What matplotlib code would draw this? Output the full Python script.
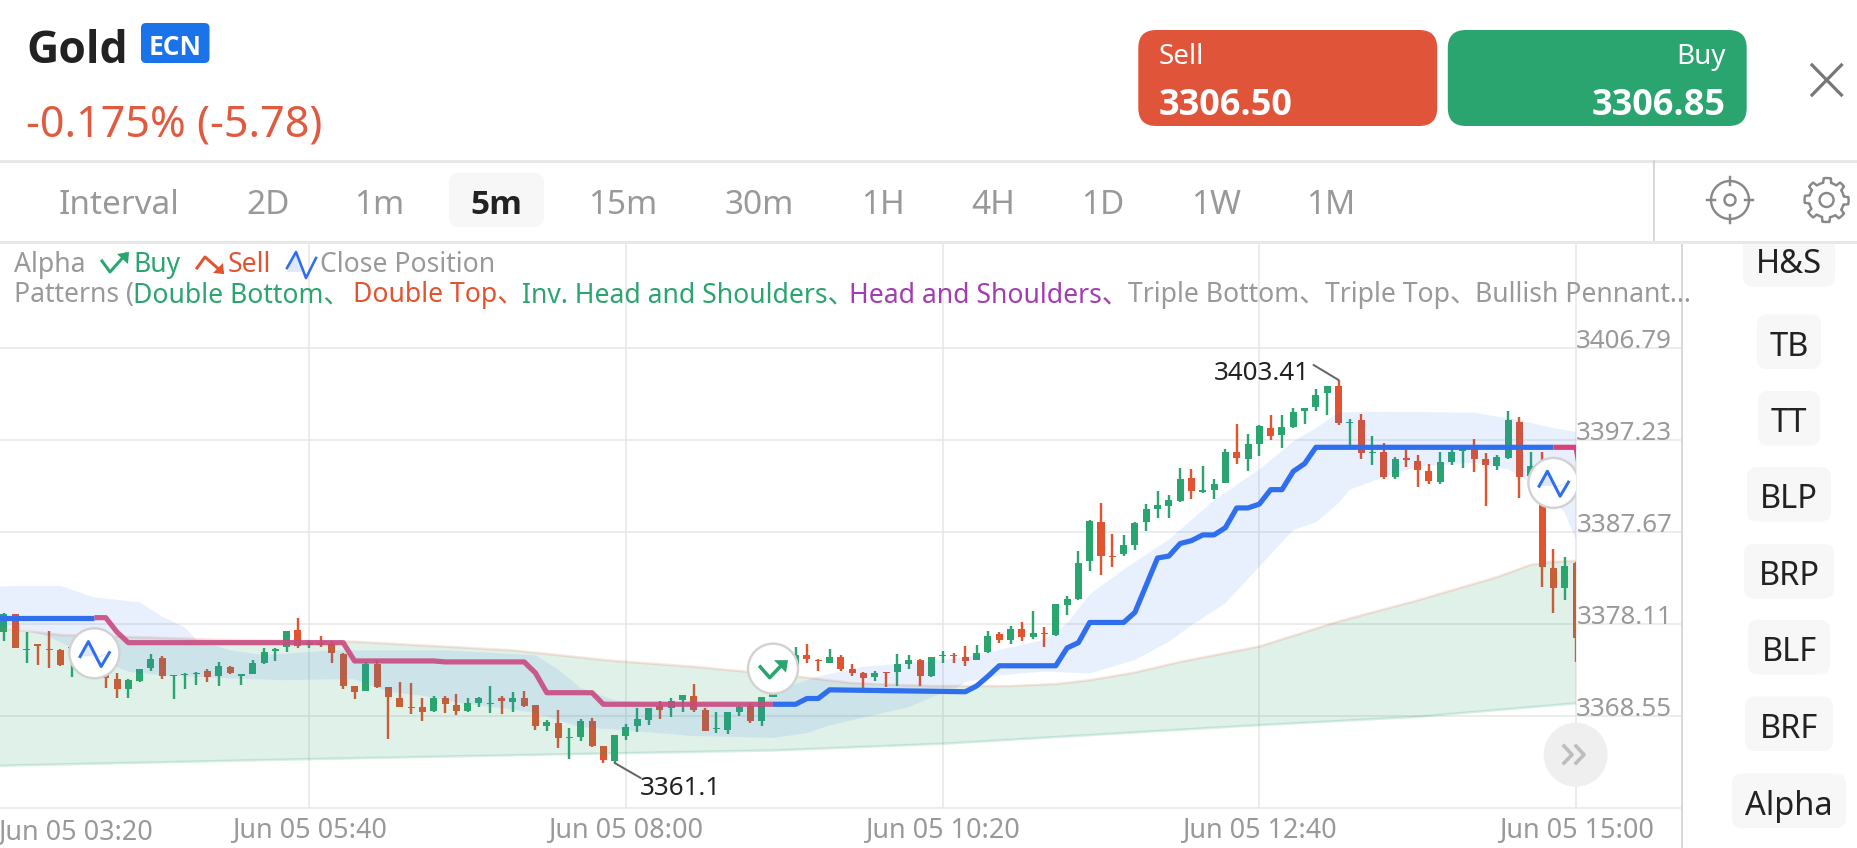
import numpy as np
import matplotlib
matplotlib.use("Agg")
import matplotlib.pyplot as plt
from matplotlib import font_manager as fm
from matplotlib.patches import FancyBboxPatch, Circle, Rectangle, Polygon

plt.rcParams['font.family'] = ['Noto Sans', 'Noto Sans CJK SC', 'DejaVu Sans']

BOLD_FAMILY = 'DejaVu Sans'
for cand in ['Noto Sans', 'Open Sans', 'Inter', 'Roboto', 'Lato', 'Liberation Sans']:
    if any(f.name == cand and (f.weight == 'bold' or (isinstance(f.weight, int) and f.weight >= 700))
           for f in fm.fontManager.ttflist):
        BOLD_FAMILY = cand
        break

# ---------- data ----------
opens = [3377.3,3379.2,3375.4,3376.0,3375.5,3375.4,3375.6,3375.1,3373.7,3372.8,
 3372.4,3371.4,3372.2,3373.6,3374.6,3372.7,3372.8,3372.9,3373.3,3372.7,
 3373.7,3372.7,3372.9,3374.1,3375.3,3375.8,3377.5,3376.0,3376.2,3376.1,
 3375.0,3371.7,3371.2,3374.0,3371.6,3370.5,3369.5,3369.5,3369.1,3370.5,
 3369.7,3369.1,3369.9,3369.8,3370.4,3370.0,3370.4,3369.7,3367.5,3367.9,
 3366.3,3366.4,3368.1,3365.5,3363.9,3366.5,3367.5,3368.2,3369.6,3369.4,
 3370.2,3370.7,3369.2,3367.2,3367.1,3369.0,3369.6,3368.1,3370.6,3371.6,
 3373.7,3374.9,3374.4,3374.1,3374.7,3373.5,3373.1,3372.6,3373.1,3373.2,
 3374.0,3374.4,3372.7,3374.8,3374.9,3374.7,3374.4,3375.2,3377.1,3376.5,
 3377.6,3376.8,3377.2,3377.0,3380.1,3380.7,3384.7,3388.7,3385.2,3385.4,
 3386.3,3388.7,3390.1,3390.4,3390.9,3393.3,3391.9,3392.1,3392.8,3396.0,
 3395.3,3396.8,3398.5,3397.8,3398.6,3400.3,3400.7,3402.1,3402.9,3399.0,
 3399.3,3395.9,3396.0,3393.4,3395.4,3395.1,3394.0,3392.9,3395.0,3396.1,
 3396.5,3395.3,3394.6,3395.4,3399.1,3393.5,3394.1,3384.0,3381.9,3384.5]
closes = [3379.2,3375.6,3375.5,3375.9,3375.4,3373.9,3375.7,3374.2,3373.4,3372.5,
 3371.4,3372.3,3373.5,3374.5,3372.7,3372.8,3372.9,3373.1,3372.6,3373.8,
 3373.0,3372.9,3374.1,3375.2,3375.5,3377.4,3375.9,3376.1,3376.0,3375.1,
 3371.7,3371.1,3374.0,3371.6,3370.6,3369.5,3369.4,3369.0,3370.5,3369.8,
 3369.1,3369.9,3370.4,3369.9,3370.1,3370.4,3369.6,3367.5,3368.0,3366.3,
 3366.4,3368.1,3365.5,3364.0,3366.6,3367.4,3368.3,3369.4,3369.2,3370.1,
 3370.8,3369.2,3367.0,3367.3,3369.0,3369.5,3368.1,3370.6,3371.0,3373.0,
 3374.9,3374.5,3374.3,3374.7,3373.5,3373.1,3372.5,3373.1,3373.0,3374.0,
 3374.4,3372.7,3374.7,3374.9,3374.8,3374.3,3375.1,3376.9,3376.5,3377.6,
 3376.8,3377.2,3377.1,3380.2,3380.7,3384.5,3388.8,3385.2,3385.1,3386.3,
 3388.6,3390.1,3390.5,3391.0,3393.2,3392.0,3392.0,3392.7,3396.0,3395.4,
 3396.8,3398.7,3397.7,3398.6,3400.2,3400.6,3401.9,3402.9,3399.0,3399.1,
 3395.9,3396.0,3393.4,3395.3,3395.2,3394.1,3393.0,3395.0,3396.0,3396.3,
 3395.3,3394.7,3395.5,3399.3,3393.4,3394.6,3384.1,3381.9,3384.2,3376.7]
highs = [3379.3,3379.2,3377.3,3376.1,3377.4,3375.5,3375.8,3375.6,3374.0,3373.3,
 3373.1,3372.4,3373.5,3375.0,3374.8,3372.8,3373.1,3373.2,3373.5,3374.2,
 3373.8,3372.9,3374.4,3375.6,3375.6,3377.4,3378.8,3376.5,3376.9,3376.4,
 3375.1,3371.7,3374.2,3374.4,3371.6,3372.1,3372.0,3370.5,3370.7,3370.7,
 3370.9,3370.4,3370.6,3371.7,3370.7,3371.1,3371.2,3369.7,3368.2,3369.2,
 3367.3,3368.3,3368.4,3365.5,3366.6,3367.8,3369.4,3369.4,3370.1,3370.5,
 3370.8,3371.9,3369.4,3369.0,3369.0,3369.6,3369.9,3370.6,3371.0,3373.5,
 3375.8,3376.1,3374.5,3375.5,3374.9,3374.0,3373.2,3373.3,3373.2,3375.0,
 3374.9,3374.5,3374.7,3375.3,3375.1,3375.9,3376.0,3377.4,3377.3,3377.9,
 3378.4,3379.5,3377.8,3380.2,3381.1,3385.7,3388.9,3390.7,3387.5,3387.4,
 3388.7,3390.6,3392.0,3391.5,3394.4,3394.2,3394.6,3393.2,3396.3,3398.9,
 3397.9,3398.8,3399.9,3399.9,3400.6,3400.6,3402.6,3402.9,3403.5,3399.4,
 3400.0,3397.7,3397.0,3395.5,3396.3,3395.7,3394.8,3396.0,3396.4,3396.3,
 3397.4,3395.9,3395.7,3400.3,3399.7,3396.0,3396.0,3385.9,3385.1,3384.6]
lows = [3376.4,3375.6,3374.1,3373.9,3373.6,3373.8,3372.6,3373.9,3373.1,3371.5,
 3370.4,3370.5,3372.1,3373.3,3372.4,3370.3,3371.4,3371.8,3372.1,3371.7,
 3372.9,3371.8,3372.9,3374.0,3374.3,3375.2,3375.6,3375.6,3375.8,3374.1,
 3371.4,3370.3,3371.2,3371.5,3366.2,3369.5,3368.8,3368.1,3369.0,3368.9,
 3368.7,3369.0,3369.5,3368.9,3368.8,3369.0,3369.5,3367.1,3367.0,3365.3,
 3364.1,3366.0,3365.4,3363.7,3363.7,3366.1,3366.9,3367.6,3368.3,3368.5,
 3369.0,3369.0,3367.0,3366.8,3366.7,3368.6,3367.9,3367.5,3370.6,3371.2,
 3373.5,3374.1,3373.3,3374.1,3373.3,3372.7,3371.4,3372.2,3371.6,3371.7,
 3373.5,3371.7,3372.6,3374.1,3374.1,3373.8,3374.4,3375.1,3376.2,3376.1,
 3376.4,3376.6,3375.8,3376.9,3379.1,3380.6,3383.6,3383.2,3384.1,3385.2,
 3385.8,3387.8,3389.2,3389.2,3390.8,3391.1,3391.8,3391.1,3392.8,3394.8,
 3394.0,3395.6,3397.3,3396.4,3398.5,3398.9,3400.3,3399.9,3398.8,3396.5,
 3395.3,3394.7,3393.2,3393.2,3394.5,3392.4,3392.7,3392.7,3394.7,3394.4,
 3393.9,3390.4,3394.1,3395.3,3391.2,3393.1,3382.0,3379.3,3380.6,3374.2]

green_up_k = [0,3,6,12,20,32,46,55,62,71,76,80,83,90,94,97,101,105,112,119,126,133,136,138,140]
green_up_v = [3377.8,3377.4,3377.0,3376.8,3376.5,3376.3,3375.4,3374.3,3373.7,3372.7,3372.0,
              3371.8,3371.7,3371.7,3371.9,3372.3,3373.1,3374.2,3375.8,3378.4,3380.6,3383.0,3384.3,3384.6,3384.7]
green_lo_k = [0,28,55,69,84,110,126,140]
green_lo_v = [3363.4,3364.1,3364.7,3365.0,3365.7,3367.5,3368.5,3369.9]

blue_up_k = [0,2,6,9,13,15,17,18,21,24,30,40,48,50,52,55,60,68,70,72,73,77,84,87,90,93,95,97,100,
             104,108,112,115,117,119,122,131,135,138,140]
blue_up_v = [3382.0,3382.1,3382.1,3380.9,3380.4,3378.9,3377.8,3376.5,3375.4,3374.9,3375.4,3375.4,
             3374.9,3373.4,3371.5,3370.2,3369.8,3369.8,3371.5,3372.3,3372.7,3373.7,3374.4,3374.9,
             3375.7,3376.5,3378.2,3381.2,3383.8,3386.9,3391.0,3394.2,3397.1,3398.5,3400.1,3400.2,
             3400.1,3399.3,3398.5,3398.1]
blue_lo_k = [0,3,5,7,10,12,15,21,26,30,32,35,38,41,45,48,52,56,62,66,69,72,74,78,81,83,85,86,89,93,
             97,101,104,106,109,112,115,117,119,120,123,126,131,134,137,139,140]
blue_lo_v = [3378.0,3377.5,3376.8,3375.7,3374.1,3373.2,3372.8,3372.5,3372.3,3372.4,3372.4,3371.1,
             3370.7,3370.0,3369.4,3368.9,3367.4,3367.1,3366.5,3366.4,3366.3,3366.8,3367.6,3368.7,
             3369.5,3370.5,3371.3,3372.1,3372.8,3373.2,3373.0,3374.4,3376.3,3378.0,3380.3,3384.1,
             3387.9,3388.7,3390.7,3392.1,3393.4,3394.5,3394.9,3394.2,3392.3,3389.7,3386.9]

trail_blue1_k = [0,9]
trail_blue1_v = [3378.8,3378.8]
trail_pink1_k = [9,10,11,12,31,32,39,40,47,48,49,53,54,69]
trail_pink1_v = [3378.8,3378.8,3377.3,3376.2,3376.2,3374.3,3374.3,3374.2,3374.2,3373.05,3371.0,
                 3371.0,3369.8,3369.8]
trail_blue2_k = [69,71,72,73,74,86,87,88,89,94,95,96,97,100,101,103,104,105,106,107,108,109,110,
                 111,112,113,114,115,116,117,138]
trail_blue2_v = [3369.8,3369.8,3370.4,3370.4,3371.3,3371.1,3371.7,3372.7,3373.8,3373.8,3375.65,
                 3376.2,3378.3,3378.3,3379.35,3385.0,3385.2,3386.5,3386.8,3387.4,3387.4,3388.15,
                 3390.2,3390.2,3390.6,3392.1,3392.1,3394.0,3394.8,3396.5,3396.5]
trail_pink2_k = [138,140,141]
trail_pink2_v = [3396.5,3396.5,3390.0]

price_ticks = [3368.55,3378.11,3387.67,3397.23,3406.79]
time_ticks = [28,56,84,112,140]
time_labels = ['Jun 05 05:40','Jun 05 08:00','Jun 05 10:20','Jun 05 12:40','Jun 05 15:00']
first_time_label = 'Jun 05 03:20'

signal_close_k = [9,138]
signal_close_p = [3375.1,3392.8]
signal_buy_k = [69]
signal_buy_p = [3373.5]

intervals = ['Interval','2D','1m','5m','15m','30m','1H','4H','1D','1W','1M']
side_buttons = ['H&S','TB','TT','BLP','BRP','BLF','BRF','Alpha']

# ---------- colours ----------
GREEN, RED, BLUE, PINK, MAUVE = '#2BA56F', '#E2532F', '#2F6FED', '#DC4079', '#C94A80'
GREY, DARK, GRID = '#999999', '#222222', '#E6E6E6'

W, H = 1858, 848
fig = plt.figure(figsize=(W/100, H/100), dpi=100, facecolor='white')
PX = 0.72

# ---------- chart axes ----------
ax_l, ax_r, ax_t, ax_b = 0, 1682, 243, 808.3
ax = fig.add_axes([ax_l/W, 1-ax_b/H, (ax_r-ax_l)/W, (ax_b-ax_t)/H], zorder=1)
ax.patch.set_alpha(0)
ax.set_xlim(0.654, 149.37)
ax.set_ylim(3358.99, 3417.73)
for name, sp in ax.spines.items():
    sp.set_visible(name == 'bottom')
ax.spines['bottom'].set_color(GRID)
ax.spines['bottom'].set_linewidth(1.5*PX)
ax.set_xticks(time_ticks, time_labels)
ax.set_yticks(price_ticks, [f'{v:.2f}' for v in price_ticks])
ax.tick_params(axis='x', length=0, pad=6, labelsize=19.4, labelcolor=GREY)
ax.tick_params(axis='y', length=0, pad=-7, labelsize=18.7, labelcolor=GREY,
               left=False, labelleft=False, right=False, labelright=True)
for lab in ax.get_yticklabels():
    lab.set_ha('right')
    lab.set_va('baseline')
ax.grid(True, color=GRID, lw=1.5*PX, zorder=0)
ax.set_axisbelow(True)
ax.text(0.5, -0.0187, first_time_label, transform=ax.get_xaxis_transform(), ha='left', va='top',
        fontsize=19.4, color=GREY, clip_on=False)

clip = Rectangle((0.654, 3358.99), 140-0.654, 60, transform=ax.transData, fill=False, lw=0)
ax.add_patch(clip)
k = np.arange(1, 141)
o, c, hi, lo = map(np.array, (opens, closes, highs, lows))
colors = [GREEN if cc >= oo else RED for oo, cc in zip(o, c)]
arts = []
arts.append(ax.vlines(k, lo, hi, colors=colors, lw=2.4*PX, zorder=2))
bars = ax.bar(k, np.maximum(np.abs(c-o), 0.12), bottom=np.minimum(o, c), width=0.62, color=colors, zorder=2)
arts.extend(bars.patches)
arts.extend(ax.fill(np.r_[green_up_k, green_lo_k[::-1]], np.r_[green_up_v, green_lo_v[::-1]],
                    color=GREEN, alpha=0.15, lw=0, zorder=3))
arts.extend(ax.fill(np.r_[blue_up_k, blue_lo_k[::-1]], np.r_[blue_up_v, blue_lo_v[::-1]],
                    color=BLUE, alpha=0.105, lw=0, zorder=3))
arts.extend(ax.plot(green_up_k, green_up_v, color=RED, alpha=0.15, lw=2.5*PX, zorder=3))
arts.extend(ax.plot(green_lo_k, green_lo_v, color=GREEN, alpha=0.18, lw=2.5*PX, zorder=3))
for kk, vv, col, al in [(trail_blue1_k, trail_blue1_v, BLUE, 1), (trail_pink1_k, trail_pink1_v, MAUVE, .9),
                        (trail_blue2_k, trail_blue2_v, BLUE, 1), (trail_pink2_k, trail_pink2_v, PINK, 1)]:
    arts.extend(ax.plot(kk, vv, color=col, alpha=al, lw=5.2*PX, zorder=4,
                        solid_joinstyle='round', solid_capstyle='butt'))
for a in arts:
    a.set_clip_path(clip)

# extreme labels
hi_k, hi_p = 119, 3403.5
lo_k, lo_p = 55, 3363.7
ax.annotate('', xy=(hi_k, hi_p), xytext=(-25, 15), textcoords='offset pixels', zorder=5,
            arrowprops=dict(arrowstyle='-', color='#666666', lw=2*PX, shrinkA=0, shrinkB=0))
ax.annotate('3403.41', xy=(hi_k, hi_p), xytext=(-29, 6), textcoords='offset pixels', ha='right', va='center',
            fontsize=18.7, color=DARK, zorder=5)
ax.annotate('', xy=(lo_k, lo_p), xytext=(26, -15), textcoords='offset pixels', zorder=5,
            arrowprops=dict(arrowstyle='-', color='#666666', lw=2*PX, shrinkA=0, shrinkB=0))
ax.annotate('3361.1', xy=(lo_k, lo_p), xytext=(25, -26), textcoords='offset pixels', ha='left', va='center',
            fontsize=18.7, color=DARK, zorder=5)

# ---------- interface overlay in pixel coordinates ----------
ui = fig.add_axes([0, 0, 1, 1], zorder=2)
ui.set_xlim(0, W); ui.set_ylim(H, 0); ui.axis('off'); ui.patch.set_alpha(0)

def rrect(x0, y0, x1, y1, r, col, z=1):
    p = FancyBboxPatch((x0+r, y0+r), x1-x0-2*r, y1-y0-2*r, boxstyle=f'round,pad={r},rounding_size={r}',
                       fc=col, ec='none', zorder=z)
    ui.add_patch(p)
    return p

def txt(x, y, s, size, col, ha='left', weight='normal', z=5):
    t = ui.text(x, y+0.22*size, s, fontsize=size, color=col, ha=ha, va='center', zorder=z)
    if weight == 'bold':
        t.set_family([BOLD_FAMILY])
        t.set_fontweight('bold')
    return t

# header
txt(26, 44, 'Gold', 32, DARK, weight='bold')
rrect(141, 23, 209.5, 63, 5, '#1A73E8')
txt(175, 43, 'ECN', 19, 'white', ha='center', weight='bold')
txt(26, 119, '-0.175% (-5.78)', 31, '#DF5A3F')
rrect(1138.3, 30, 1437.2, 126, 18, '#E0553A')
rrect(1447.8, 30, 1746.7, 126, 18, '#2BA56F')
txt(1159, 53, 'Sell', 20, 'white')
txt(1159, 100, '3306.50', 26, 'white', weight='bold')
txt(1726, 53, 'Buy', 20, 'white', ha='right')
txt(1726, 100, '3306.85', 26, 'white', ha='right', weight='bold')
ui.plot([1812, 1841.4], [65, 95], color='#777777', lw=3.2*PX)
ui.plot([1812, 1841.4], [95, 65], color='#777777', lw=3.2*PX)

# interval row
ui.plot([0, W], [161, 161], color='#E8E8E8', lw=3*PX)
ui.plot([0, W], [241.5, 241.5], color='#E8E8E8', lw=3*PX, zorder=6)
ui.plot([1654.4, 1654.4], [161, 241], color='#CCCCCC', lw=1.5*PX)
rrect(449, 172.7, 544, 227, 10, '#F7F7F7')
interval_x = [119, 268, 379.6, 496.4, 622.8, 759, 882.6, 992.7, 1102.8, 1215.8, 1330.7]
for xx, lab in zip(interval_x, intervals):
    sel = lab == '5m'
    txt(xx, 200, lab, 24, DARK if sel else GREY, ha='center', weight='bold' if sel else 'normal')

# target and gear icons
ic = '#888888'
ti_x, ge_x = 1730, 1826.6
ui.add_patch(Circle((ti_x, 200), 19, fc='none', ec=ic, lw=2.4*PX))
ui.add_patch(Circle((ti_x, 200), 5.5, fc='none', ec=ic, lw=2.4*PX))
for dx, dy in [(1, 0), (-1, 0), (0, 1), (0, -1)]:
    ui.plot([ti_x+dx*15, ti_x+dx*23], [200+dy*15, 200+dy*23], color=ic, lw=2.4*PX)
ang = np.linspace(0, 2*np.pi, 97)[:-1] + np.pi/8
rad = np.where(np.cos(8*ang) > 0, 22, 17.5)
ui.add_patch(Polygon(np.c_[ge_x+rad*np.cos(ang), 200+rad*np.sin(ang)], closed=True, fc='none', ec=ic,
                     lw=2.4*PX, joinstyle='round'))
ui.add_patch(Circle((ge_x, 200), 7, fc='none', ec=ic, lw=2.4*PX))

# legend rows
ROW1, ROW2, LEG = 261, 291, 19.1
txt(14.5, ROW1, 'Alpha', LEG, GREY)
txt(133, ROW1, 'Buy', LEG, GREEN)
txt(228, ROW1, 'Sell', LEG, RED)
txt(320, ROW1, 'Close Position', LEG, GREY)
ui.plot([102, 110, 126], [261, 272, 254], color=GREEN, lw=3*PX)
ui.add_patch(Polygon([[117, 254], [129, 252], [128, 264]], closed=True, fc=GREEN, ec='none'))
ui.plot([197, 205, 222], [268, 257, 272], color=RED, lw=3*PX)
ui.add_patch(Polygon([[213, 273], [224, 274], [223, 263]], closed=True, fc=RED, ec='none'))
ui.fill([287, 296, 304], [272, 252, 272], color=BLUE, alpha=0.15, lw=0)
ui.plot([287, 296, 306, 316], [268, 252, 278, 258], color=BLUE, lw=2.6*PX)

legend_row = [(14.5, 'Patterns (', GREY), (133.5, 'Double Bottom、', GREEN), (353, 'Double Top、', RED),
              (522, 'Inv. Head and Shoulders、', GREEN), (849.5, 'Head and Shoulders、', '#A23CB0'),
              (1128.3, 'Triple Bottom、', GREY), (1324.7, 'Triple Top、', GREY), (1475, 'Bullish Pennant...', GREY)]
for xx, s, col in legend_row:
    txt(xx, ROW2, s, LEG, col)

# right panel
ui.plot([1682.5, 1682.5], [243, 848], color='#D8D8D8', lw=2*PX)
side_x0 = [1743, 1757, 1758, 1747, 1744, 1748, 1745, 1732]
side_x1 = [1835, 1821, 1820, 1831, 1834, 1830, 1833, 1846]
side_y0 = [232, 314.5, 391, 467, 544, 620, 696.5, 773.5]
for x0, x1, y0, s in zip(side_x0, side_x1, side_y0, side_buttons):
    rrect(x0, y0, x1, y0+54.5, 10, '#F7F7F7')
    txt((x0+x1)/2, y0+27.5, s, 23.5, DARK, ha='center', z=3)
ui.add_patch(Rectangle((1700, 226), 158, 14.5, fc='white', ec='none', zorder=2))

# right-scroll button
ui.add_patch(Circle((1575.7, 754.7), 32, fc='#EFEFEF', ec='none', zorder=3))
for off in (-2, 10):
    ui.plot([1566+off, 1574+off, 1566+off], [746, 754.7, 763], color='#BDBDBD', lw=3.6*PX, zorder=4)

# signal markers placed from the price axes
fig.canvas.draw()
def to_ui(kv, pv):
    d = ax.transData.transform((kv, pv))
    return d[0], H - d[1]
clipx = Rectangle((0, 0), 1576, H, transform=ui.transData, fill=False, lw=0)
ui.add_patch(clipx)
def add(art):
    art.set_clip_path(clipx)
    return art
for kv, pv in zip(signal_close_k, signal_close_p):
    cx, cy = to_ui(kv, pv)
    add(ui.add_patch(Circle((cx, cy), 25, fc='white', ec='#D2D2D2', lw=2.4*PX, zorder=7)))
    add(ui.fill(cx+np.array([-14, -6, 2]), cy+np.array([3, -12, 3]), color=BLUE, alpha=0.15, lw=0, zorder=8)[0])
    add(ui.fill(cx+np.array([6, 15, 1]), cy+np.array([4, -1, 4]), color=BLUE, alpha=0.15, lw=0, zorder=8)[0])
    add(ui.plot(cx+np.array([-14.3, -6, 6.7, 15]), cy+np.array([3.3, -11.7, 13.3, -0.7]),
                color=BLUE, lw=3*PX, zorder=9)[0])
for kv, pv in zip(signal_buy_k, signal_buy_p):
    cx, cy = to_ui(kv, pv)
    ui.add_patch(Circle((cx, cy), 25, fc='white', ec='#D2D2D2', lw=2.4*PX, zorder=7))
    ui.plot(cx+np.array([-12.7, -3.3, 9]), cy+np.array([-1.7, 9, -4]), color=GREEN, lw=3.6*PX, zorder=9)
    ui.add_patch(Polygon(np.c_[cx+np.array([1, 15, 13]), cy+np.array([-8.5, -8.5, 4])], closed=True,
                         fc=GREEN, ec='none', zorder=9))

fig.savefig('out.png', dpi=100, facecolor='white')
